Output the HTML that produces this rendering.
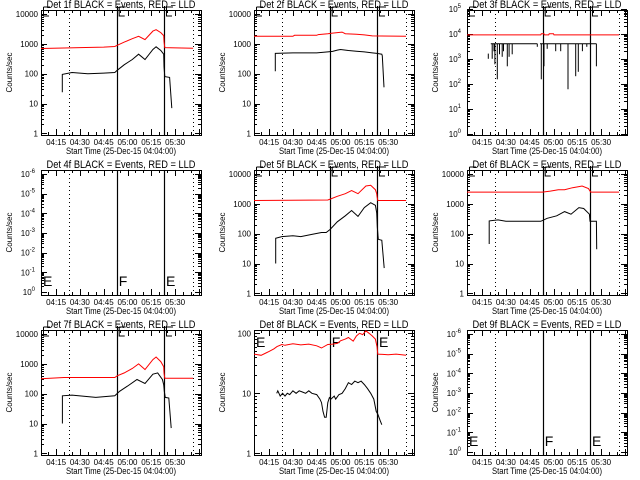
<!DOCTYPE html>
<html><head><meta charset="utf-8"><style>
html,body{margin:0;padding:0;background:#fff;}
svg{display:block;font-family:"Liberation Sans",sans-serif;}
</style></head><body>
<svg id="c" width="640" height="480" viewBox="0 0 640 480"></svg>
<script>
// ---- data (time in minutes after 04:00) ----
const tickLabelsX = ['04:15','04:30','04:45','05:00','05:15','05:30'];
const tickTimesX = [15,30,45,60,75,90];
const markerTimesDotted = [23.2,101.3];
const markerTimesSolid = [53.2,83.0];
const titles = ['Det 1f BLACK = Events, RED = LLD','Det 2f BLACK = Events, RED = LLD','Det 3f BLACK = Events, RED = LLD',
 'Det 4f BLACK = Events, RED = LLD','Det 5f BLACK = Events, RED = LLD','Det 6f BLACK = Events, RED = LLD',
 'Det 7f BLACK = Events, RED = LLD','Det 8f BLACK = Events, RED = LLD','Det 9f BLACK = Events, RED = LLD'];

const red1T=[5.5,20,30,45,52,53.5,58,63,67,71,76,78,81,82.8,83.0,83.5,101.3];
const red1V=[700,730,750,780,820,900,1150,1500,1800,1400,2700,3000,2400,1900,1200,750,720];
const blk1T=[18.9,18.9,25,35,45,52,53.5,58,63,67,71,76,78,81,82.8,83.0,83.5,86.5,87.9];
const blk1V=[24,95,110,100,105,110,130,200,300,450,300,650,800,600,450,170,80,75,7];

const red2T=[5.5,30,31,45,46,52,55,58,61,63,70,75,80,101.3];
const red2V=[1800,1800,1950,1950,2050,2200,2300,2400,2500,2200,2100,2000,1850,1800];
const blk2T=[18.9,18.9,30,45,52,55,58,60,65,70,75,80,83,86,86.3,87.4];
const blk2V=[120,480,500,500,540,560,620,650,600,570,540,500,480,450,400,35];

const red3T=[5.5,52,52.3,54,54.3,57,57.3,60,60.3,101.3];
const red3V=[9000,9000,10000,10000,9000,9000,10000,10000,9000,9000];
const blk3StubT=[18.9,18.9];
const blk3StubV=[1000,1600];
const blk3SegStart=[20.5,51.5];
const blk3SegEnd=[49.8,87.0];
const blk3Level=[4000,4000];
const blk3DipT=[21.4,22.5,23.1,24.6,26,27.7,28.5,30.9,32,34.0,49.8,52.3,54.0,56,61.4,64.5,69.1,74.0,75.6,78.2,81,87.0];
const blk3DipV=[1000,2000,600,150,1500,1200,2000,500,1200,1500,3000,150,500,2500,2000,2000,60,200,300,2000,3000,500];

const red5T=[5.5,52,53.5,58,63,67,71,76,79,82,82.8,83.0,83.5,101.3];
const red5V=[1300,1350,1450,1800,2200,2800,2200,4000,4200,3000,2200,1800,1300,1300];
const blk5T=[19.2,19.2,23,30,35,42,48,51,53.5,58,63,67,71,75,79,82,82.8,83.2,83.8,86,87.5];
const blk5V=[10,70,80,85,80,95,110,110,140,250,400,600,380,750,1100,900,500,170,65,60,7];

const red6T=[5.5,53,58,63,67,72,76,78,82,83,83.5,101.3];
const red6V=[2500,2500,2700,3000,3000,3500,3800,4000,3300,2700,2500,2500];
const blk6T=[19.5,19.5,25,30,52,56,62,67,71,76,79,82.6,83,83.5,87,87.2];
const blk6V=[45,270,290,260,260,330,400,550,450,750,700,450,260,260,260,30];

const red7T=[5.5,20,52,53.5,58,63,67,71,76,78,81,82.8,83,83.5,101.3];
const red7V=[320,350,350,400,500,700,1000,650,1400,1700,1200,800,500,330,330];
const blk7T=[19,19,25,40,52,55,60,66,71,76,79,82,82.8,83.2,83.8,86,87.5];
const blk7V=[10,85,90,75,85,120,180,300,220,450,500,300,200,120,75,72,7];

const red8T=[5.5,10,13,15,18,20,23,25,30,35,40,45,48,52,55,58,60,63,65,68,70,72,74,76,78,80,82,83,83.5,90,95,101.3];
const red8V=[45,43,47,50,55,60,65,63,67,64,66,62,57,65,66,68,75,80,85,74,90,100,95,110,100,90,80,60,45,44,45,43];
const blk8T=[19.8,20.5,22,23.5,25,26.5,28,30,32,34,36,38,40,42,45,47,48,49,50,51,52,53,54,56,57,59,61,63,65,67,69,71,73,75,77,79,81,82.5,83.5,85,86];
const blk8V=[10,11,9,10,9,10,9.5,11,10,11,10.5,10,11,10,9.5,8,7,5,4,4,7,8.5,8,9,8,9.5,10,12,15,14,16,15,16,14,12,10,8,5,4.5,3.5,3];

// y axis definitions per panel
const yTicks123 = [0,1,2,3,4];
const yLabelsLin = ['1','10','100','1000','10000'];
const yTicksP3 = [0,1,2,3,4,5];
const yTicksEmpty = [0,1,2,3,4,5,6];
const yTicksP8 = [0,1,2];

const NS='http://www.w3.org/2000/svg';
const svg=document.getElementById('c');
const W=160,H=125,tmin=5.5,tmax=106.3;
function mk(tag,attrs,parent){const e=document.createElementNS(NS,tag);for(const k in attrs)e.setAttribute(k,attrs[k]);(parent||svg).appendChild(e);return e;}

const panels=[
 {ticks:yTicks123,lab:yLabelsLin,lmin:-0.057,lmax:4.138,red:[red1T,red1V],blk:[blk1T,blk1V],letter:'top'},
 {ticks:yTicks123,lab:yLabelsLin,lmin:-0.057,lmax:4.138,red:[red2T,red2V],blk:[blk2T,blk2V],letter:'top'},
 {ticks:yTicksP3,lab:null,exp:true,lmin:-0.05,lmax:4.95,red:[red3T,red3V],blk:null,p3:true,letter:'top'},
 {ticks:yTicksEmpty,lab:null,exp:true,neg:true,lmin:-0.15,lmax:6.2,red:null,blk:null,letter:'bottom'},
 {ticks:yTicks123,lab:yLabelsLin,lmin:-0.057,lmax:4.138,red:[red5T,red5V],blk:[blk5T,blk5V],letter:'top'},
 {ticks:yTicks123,lab:yLabelsLin,lmin:-0.057,lmax:4.138,red:[red6T,red6V],blk:[blk6T,blk6V],letter:'top'},
 {ticks:yTicks123,lab:yLabelsLin,lmin:-0.057,lmax:4.138,red:[red7T,red7V],blk:[blk7T,blk7V],letter:'top'},
 {ticks:yTicksP8,lab:['1','10','100'],lmin:-0.028,lmax:2.055,red:[red8T,red8V],blk:[blk8T,blk8V],letter:'inside'},
 {ticks:yTicksEmpty,lab:null,exp:true,neg:true,lmin:-0.15,lmax:6.2,red:null,blk:null,letter:'bottom'}
];

panels.forEach((p,i)=>{
  const ox=41+213*(i%3), oy=10+160*Math.floor(i/3);
  const g=mk('g',{});
  
  
  const xs=t=>ox+(t-tmin)/(tmax-tmin)*W;
  const ysL=l=>oy+H-(l-p.lmin)/(p.lmax-p.lmin)*H;
  const ys=v=>ysL(Math.log10(v));
  const cid='clip'+i;
  const cp=mk('clipPath',{id:cid},g);mk('rect',{x:ox,y:oy,width:W,height:H},cp);
  // title
  const tt=mk('text',{x:ox+W/2,y:oy-2,'font-size':11,'text-anchor':'middle',textLength:149,lengthAdjust:'spacingAndGlyphs'},g);
  tt.textContent=titles[i];
  
  
  // box
  const box=mk('rect',{x:ox+0.5,y:oy+0.5,width:W,height:H,fill:'none',stroke:'#000','stroke-width':1},g);
  
  
  // x ticks
  for(let t=10;t<tmax;t+=5){const x=Math.round(xs(t))+0.5;const major=t%15===0;const L=major?6:3;
    mk('line',{x1:x,x2:x,y1:oy+H,y2:oy+H-L,stroke:'#000'},g);mk('line',{x1:x,x2:x,y1:oy,y2:oy+L,stroke:'#000'},g);}
  tickTimesX.forEach((t,k)=>{const tx=mk('text',{x:xs(t),y:oy+H+10,'font-size':8,'text-anchor':'middle'},g);tx.textContent=tickLabelsX[k];
    
    });
  const xt=mk('text',{x:ox+W/2,y:oy+H+19,'font-size':9,'text-anchor':'middle',textLength:110,lengthAdjust:'spacingAndGlyphs'},g);
  xt.textContent='Start Time (25-Dec-15 04:04:00)';
  
  
  const yt=mk('text',{x:0,y:0,'font-size':8,'text-anchor':'middle',transform:`translate(${ox-29},${oy+H/2}) rotate(-90)`},g);
  yt.textContent='Counts/sec';
  
  
  // y ticks
  p.ticks.forEach((l,k)=>{
    const y=Math.round(ysL(l))+0.5;
    mk('line',{x1:ox,x2:ox+6,y1:y,y2:y,stroke:'#000'},g);mk('line',{x1:ox+W,x2:ox+W-6,y1:y,y2:y,stroke:'#000'},g);
    for(let m=2;m<10;m++){const ym=Math.round(ysL(l+Math.log10(m)))+0.5;if(ym<oy)break;
      mk('line',{x1:ox,x2:ox+3,y1:ym,y2:ym,stroke:'#000'},g);mk('line',{x1:ox+W,x2:ox+W-3,y1:ym,y2:ym,stroke:'#000'},g);}
    const lab=mk('text',{x:ox-3,y:ysL(l)+3,'font-size':8,'text-anchor':'end'},g);
    
    
    if(p.exp){lab.textContent='10';const s=mk('tspan',{'font-size':6,dy:-4},lab);s.textContent=p.neg?(l===0?'0':'-'+l):String(l);lab.setAttribute('x',ox-6);}
    else lab.textContent=p.lab[k];
  });
  // markers
  markerTimesDotted.forEach(t=>{const x=Math.round(xs(t))+0.5;const l=mk('line',{x1:x,x2:x,y1:oy,y2:oy+H,stroke:'#000','stroke-dasharray':'1 3'},g);
    });
  markerTimesSolid.forEach(t=>{const x=Math.round(xs(t))+0.5;const l=mk('line',{x1:x,x2:x,y1:p.letter==='top'?oy-4:oy,y2:oy+H,stroke:'#000','stroke-width':1.2},g);
    });
  const letterX=[ox+2,xs(markerTimesSolid[0])+2,xs(markerTimesSolid[1])+2];
  const letters=['E','F','E'];
  letterX.forEach((x,k)=>{
    if(p.letter==='top'){
      const pth=mk('path',{d:`M${x+0.5} ${oy-3}V${oy+6}H${x+6}M${x+0.5} ${oy-3}H${x+7}`,stroke:'#000',fill:'none'},g);
      
    } else {
      const lt=mk('text',{x:x,y:p.letter==='inside'?oy+17:oy+116,'font-size':14,'font-weight':'300'},g);lt.textContent=letters[k];
      
    }
  });
  // series
  const dg=mk('g',{'clip-path':`url(#${cid})`},g);
  function line(T,V,col,name){const pts=T.map((t,k)=>xs(t).toFixed(1)+','+ys(V[k]).toFixed(1)).join(' ');
    const pl=mk('polyline',{points:pts,fill:'none',stroke:col,'stroke-width':1},dg);
    }
  if(p.red)line(p.red[0],p.red[1],'#ff0000','red-lld-series');
  if(p.blk)line(p.blk[0],p.blk[1],'#000','black-events-series');
  if(p.p3){
    line(blk3StubT,blk3StubV,'#000','black-events-stub');
    blk3SegStart.forEach((s,k)=>line([s,blk3SegEnd[k]],[blk3Level[k],blk3Level[k]],'#000','black-events-series'));
    blk3DipT.forEach((t,k)=>line([t,t],[blk3Level[0],blk3DipV[k]],'#000','black-events-dip'));
  }
});
</script>
</body></html>
